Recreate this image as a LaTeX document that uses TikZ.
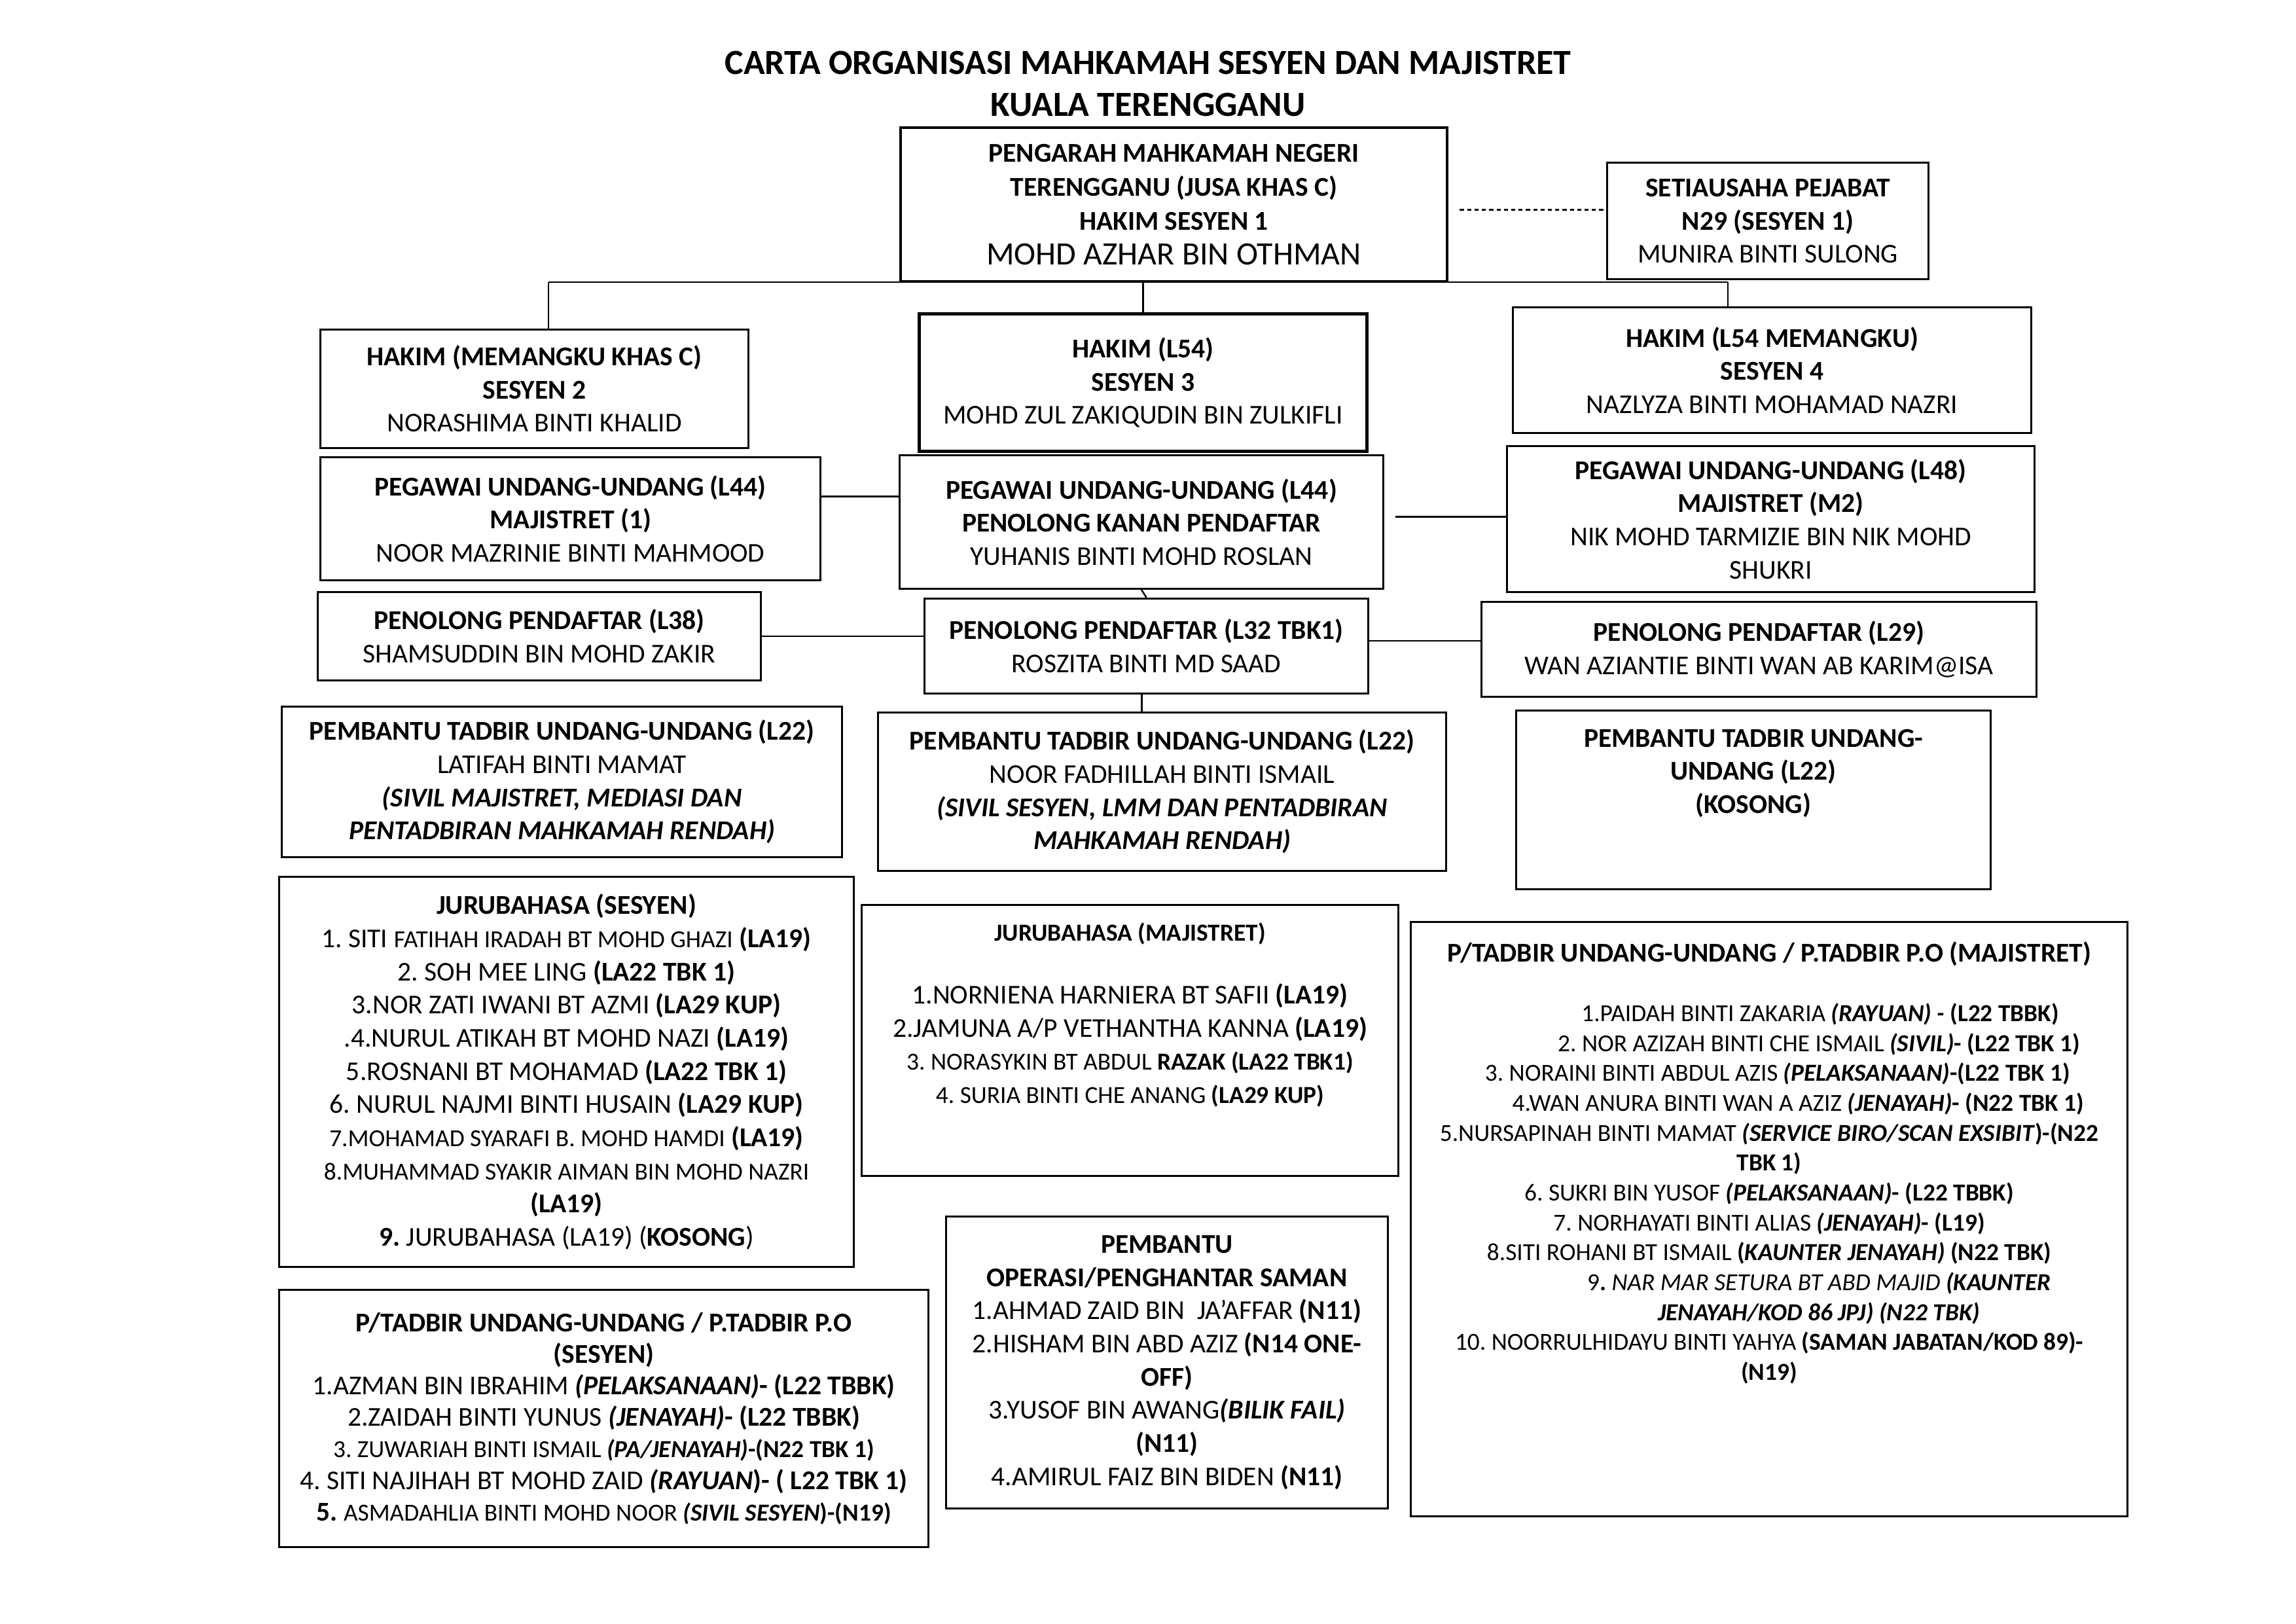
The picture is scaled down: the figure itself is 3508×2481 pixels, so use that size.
\documentclass[tikz,border=0pt]{standalone}
\usepackage{fontspec}
\setmainfont{Carlito}
\frenchspacing
\newcommand{\kecil}{\fontsize{9}{11}\selectfont}
\newcommand{\miring}[1]{\textbf{\textit{#1}}}

\begin{document}
\begin{tikzpicture}[
  x=0.084667mm, y=-0.084667mm,
  font=\fontsize{10}{12.2}\selectfont,
  orgbox/.style={draw, line width=0.75pt, align=center, inner sep=2pt, anchor=north west},
  sized/.style 2 args={minimum width=#1*0.084667mm, minimum height=#2*0.084667mm},
  link/.style={line width=0.6pt},
  dotline/.style={line width=0.6pt, dash pattern=on 1.5pt off 1.2pt},
]
\fill[white] (0,0) rectangle (3508,2481);
\useasboundingbox (0,0) rectangle (3508,2481);

\node[font=\fontsize{13}{15.6}\selectfont\bfseries, align=center] (tajuk) at (1754,128)
  {CARTA ORGANISASI MAHKAMAH SESYEN DAN MAJISTRET\\KUALA TERENGGANU};

\node[orgbox, sized={835}{235}, line width=0.9pt, font=\fontsize{10}{12.6}\selectfont] (pengarah) at (1374,193)
  {\textbf{PENGARAH MAHKAMAH NEGERI}\\ \textbf{TERENGGANU (JUSA KHAS C)}\\ \textbf{HAKIM SESYEN 1}\\ {\fontsize{12}{14}\selectfont MOHD AZHAR BIN OTHMAN}};
\node[orgbox, sized={491}{178}] (setiausaha) at (2454,247)
  {\textbf{SETIAUSAHA PEJABAT}\\ \textbf{N29 (SESYEN 1)}\\ MUNIRA BINTI SULONG};

\node[orgbox, sized={654}{181}] (hakimS2) at (488,502)
  {\textbf{HAKIM (MEMANGKU KHAS C)}\\ \textbf{SESYEN 2}\\ NORASHIMA BINTI KHALID};
\node[orgbox, sized={684}{210}, line width=1.2pt] (hakimS3) at (1402,477)
  {\textbf{HAKIM (L54)}\\ \textbf{SESYEN 3}\\ MOHD ZUL ZAKIQUDIN BIN ZULKIFLI};
\node[orgbox, sized={792}{192}] (hakimS4) at (2310,468)
  {\textbf{HAKIM (L54 MEMANGKU)}\\ \textbf{SESYEN 4}\\ NAZLYZA BINTI MOHAMAD NAZRI};

\node[orgbox, sized={764}{188}] (puMaj1) at (488,697)
  {\textbf{PEGAWAI UNDANG-UNDANG (L44)}\\ \textbf{MAJISTRET (1)}\\ NOOR MAZRINIE BINTI MAHMOOD};
\node[orgbox, sized={739}{204}] (puPkp) at (1373,694)
  {\textbf{PEGAWAI UNDANG-UNDANG (L44)}\\ \textbf{PENOLONG KANAN PENDAFTAR}\\ YUHANIS BINTI MOHD ROSLAN};
\node[orgbox, sized={806}{223}] (puMaj2) at (2301,680)
  {\textbf{PEGAWAI UNDANG-UNDANG (L48)}\\ \textbf{MAJISTRET (M2)}\\ NIK MOHD TARMIZIE BIN NIK MOHD\\ SHUKRI};

\node[orgbox, sized={677}{135}] (ppL38) at (484,903)
  {\textbf{PENOLONG PENDAFTAR (L38)}\\ SHAMSUDDIN BIN MOHD ZAKIR};
\node[orgbox, sized={678}{145}] (ppL32) at (1411,913)
  {\textbf{PENOLONG PENDAFTAR (L32 TBK1)}\\ ROSZITA BINTI MD SAAD};
\node[orgbox, sized={848}{145}] (ppL29) at (2262,918)
  {\textbf{PENOLONG PENDAFTAR (L29)}\\ WAN AZIANTIE BINTI WAN AB KARIM@ISA};

\node[orgbox, sized={856}{230}] (ptuMaj) at (429,1078)
  {\textbf{PEMBANTU TADBIR UNDANG-UNDANG (L22)}\\ LATIFAH BINTI MAMAT\hspace*{8.8mm}\\
   \miring{(SIVIL MAJISTRET, MEDIASI DAN}\\ \miring{PENTADBIRAN MAHKAMAH RENDAH)}};
\node[orgbox, sized={868}{242}] (ptuSes) at (1340,1087)
  {\textbf{PEMBANTU TADBIR UNDANG-UNDANG (L22)}\\ NOOR FADHILLAH BINTI ISMAIL\\
   \miring{(SIVIL SESYEN, LMM DAN PENTADBIRAN}\\ \miring{MAHKAMAH RENDAH)}};
\node[orgbox, sized={725}{273}] (ptuKosong) at (2315,1084)
  {\textbf{PEMBANTU TADBIR UNDANG-}\\ \textbf{UNDANG (L22)}\\ \textbf{(KOSONG)}\\[9pt]\mbox{}};

\node[orgbox, sized={878}{596}] (jbSesyen) at (425,1338)
  {\textbf{JURUBAHASA (SESYEN)}\\
   1. SITI {\kecil FATIHAH IRADAH BT MOHD GHAZI} \textbf{(LA19)}\\
   2. SOH MEE LING \textbf{(LA22 TBK 1)}\\
   3.NOR ZATI IWANI BT AZMI \textbf{(LA29 KUP)}\\
   .4.NURUL ATIKAH BT MOHD NAZI \textbf{(LA19)}\\
   5.ROSNANI BT MOHAMAD \textbf{(LA22 TBK 1)}\\
   6. NURUL NAJMI BINTI HUSAIN \textbf{(LA29 KUP)}\\
   {\kecil 7.MOHAMAD SYARAFI B. MOHD HAMDI} \textbf{(LA19)}\\
   {\kecil 8.MUHAMMAD SYAKIR AIMAN BIN MOHD NAZRI}\\
   \textbf{(LA19)}\\
   \textbf{9.} JURUBAHASA (LA19) (\textbf{KOSONG})};

\node[orgbox, sized={820}{414}] (jbMajistret) at (1315,1381)
  {{\kecil\textbf{JURUBAHASA (MAJISTRET)}}\\[11pt]
   1.NORNIENA HARNIERA BT SAFII \textbf{(LA19)}\\
   2.JAMUNA A/P VETHANTHA KANNA \textbf{(LA19)}\\
   {\kecil 3. NORASYKIN BT ABDUL \textbf{RAZAK (LA22 TBK1)}}\\
   {\kecil 4. SURIA BINTI CHE ANANG \textbf{(LA29 KUP)}}\\[8pt]\mbox{}};

\node[orgbox, sized={1095}{908}, font=\kecil] (ptMajistret) at (2154,1407)
  {{\fontsize{10}{12}\selectfont\textbf{P/TADBIR UNDANG-UNDANG / P.TADBIR P.O (MAJISTRET)}}\\[11pt]
   \hspace*{13.2mm}1.PAIDAH BINTI ZAKARIA \miring{(RAYUAN) -} \textbf{(L22 TBBK)}\\
   \hspace*{12.9mm}2. NOR AZIZAH BINTI CHE ISMAIL \miring{(SIVIL)}\textbf{- (L22 TBK 1)}\\
   \hspace*{2.2mm}3. NORAINI BINTI ABDUL AZIS \miring{(PELAKSANAAN)}\textbf{-(L22 TBK 1)}\\
   \hspace*{7.5mm}4.WAN ANURA BINTI WAN A AZIZ \miring{(JENAYAH)}\textbf{- (N22 TBK 1)}\\
   5.NURSAPINAH BINTI MAMAT \miring{(SERVICE BIRO/SCAN EXSIBIT}\textbf{)-(N22}\\
   \textbf{TBK 1)}\\
   6. SUKRI BIN YUSOF \miring{(PELAKSANAAN)}\textbf{- (L22 TBBK)}\\
   7. NORHAYATI BINTI ALIAS \miring{(JENAYAH)}\textbf{- (L19)}\\
   8.SITI ROHANI BT ISMAIL \textbf{(}\miring{KAUNTER JENAYAH)} \textbf{(N22 TBK)}\hspace*{5.4mm}\\
   \hspace*{12.9mm}9\textbf{.} \textit{NAR MAR SETURA BT ABD MAJID} \miring{(KAUNTER}\\
   \hspace*{12.9mm}\miring{JENAYAH/KOD 86 JPJ) (N22 TBK)}\\
   10. NOORRULHIDAYU BINTI YAHYA \textbf{(SAMAN JABATAN/KOD 89)-}\\
   \textbf{(N19)}\\[32pt]\mbox{}};

\node[orgbox, sized={992}{393}, font=\fontsize{10}{11.6}\selectfont] (ptSesyen) at (425,1969)
  {\textbf{P/TADBIR UNDANG-UNDANG / P.TADBIR P.O}\\
   \textbf{(SESYEN)}\\
   1.AZMAN BIN IBRAHIM \miring{(PELAKSANAAN)}\textbf{- (L22 TBBK)}\\
   2.ZAIDAH BINTI YUNUS \miring{(JENAYAH)}\textbf{- (L22 TBBK)}\\
   {\kecil 3. ZUWARIAH BINTI ISMAIL \miring{(PA/JENAYAH)}\textbf{-(N22 TBK 1)}}\\
   4. SITI NAJIHAH BT MOHD ZAID \miring{(RAYUAN}\textbf{)- ( L22 TBK 1)}\\
   \textbf{5.} {\kecil ASMADAHLIA BINTI MOHD NOOR \miring{(SIVIL SESYEN}\textbf{)-(N19)}}};

\node[orgbox, sized={675}{446}] (pbOperasi) at (1444,1857)
  {\textbf{PEMBANTU}\\
   \textbf{OPERASI/PENGHANTAR SAMAN}\\
   1.AHMAD ZAID BIN\ \ JA’AFFAR \textbf{(N11)}\\
   2.HISHAM BIN ABD AZIZ \textbf{(N14 ONE-}\\
   \textbf{OFF)}\\
   3.YUSOF BIN AWANG\miring{(BILIK FAIL)}\\
   \textbf{(N11)}\\
   4.AMIRUL FAIZ BIN BIDEN \textbf{(N11)}};

\coordinate (busL) at (838,431);
\coordinate (busR) at (2640,431);
\draw[link] (busL) -- (busR);
\draw[link] (busL) -- (busL |- hakimS2.north);
\draw[link] (hakimS3.north) -- (hakimS3.north |- busL);
\draw[link] (busR) -- (busR |- hakimS4.north);
\draw[dotline] ([xshift=1.5mm,yshift=-0.7mm]pengarah.east) -- ([yshift=-0.7mm]pengarah.east -| setiausaha.west);
\draw[link] ([yshift=2.9mm]puMaj1.east) -- ([yshift=2.9mm]puMaj1.east -| puPkp.west);
\draw[link] ([xshift=1.4mm,yshift=0.7mm]puPkp.east) -- ([yshift=0.7mm]puPkp.east -| puMaj2.west);
\draw[link] (puPkp.south) -- (ppL32.north);
\draw[link] (ppL38.east) -- (ppL38.east -| ppL32.west);
\draw[link] ([yshift=0.7mm]ppL32.east) -- ([yshift=0.7mm]ppL32.east -| ppL29.west);
\draw[link] ([xshift=-0.6mm]ppL32.south) -- ([xshift=-0.6mm]ppL32.south |- ptuSes.north);
\end{tikzpicture}
\end{document}
